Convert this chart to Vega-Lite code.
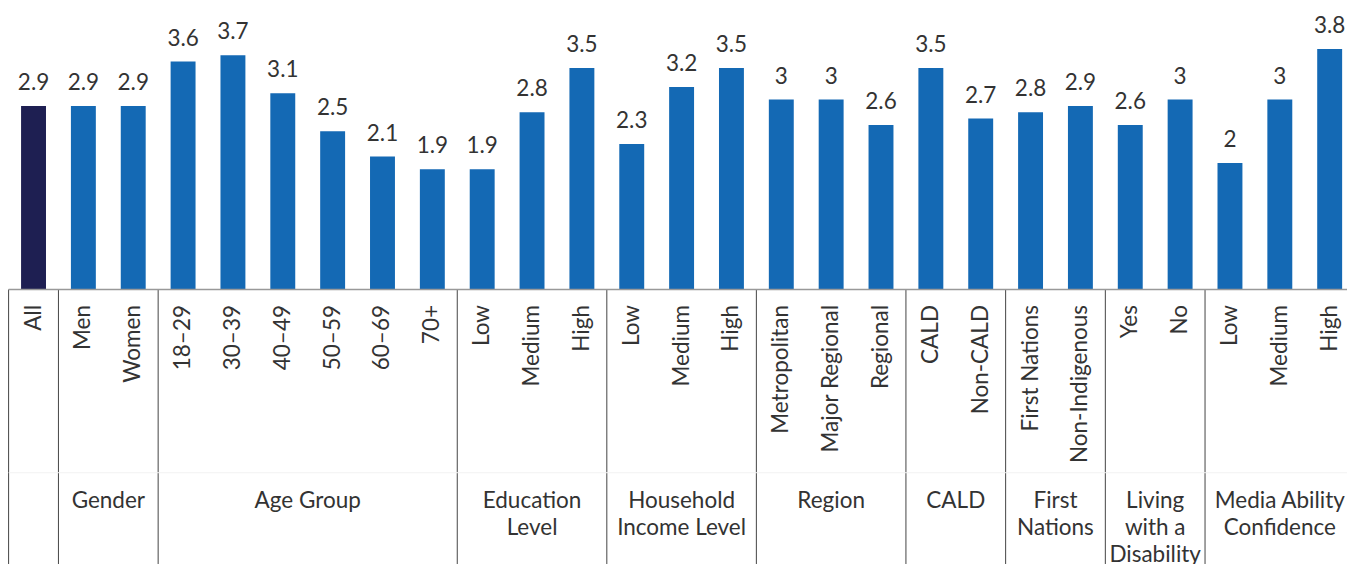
{
  "$schema": "https://vega.github.io/schema/vega-lite/v6.json",
  "width": 1346,
  "height": 564,
  "autosize": {"type": "none"},
  "padding": {"left": 8.6, "top": 0, "right": 0, "bottom": 0},
  "background": "white",
  "config": {"view": {"stroke": null}, "text": {"font": "Lato", "fontSize": 22.5, "color": "#333333"}},
  "datasets": {
    "bars": [
      {"key": "k01", "label": "All", "value": 2.9},
      {"key": "k02", "label": "Men", "value": 2.9},
      {"key": "k03", "label": "Women", "value": 2.9},
      {"key": "k04", "label": "18–29", "value": 3.6},
      {"key": "k05", "label": "30–39", "value": 3.7},
      {"key": "k06", "label": "40–49", "value": 3.1},
      {"key": "k07", "label": "50–59", "value": 2.5},
      {"key": "k08", "label": "60–69", "value": 2.1},
      {"key": "k09", "label": "70+", "value": 1.9},
      {"key": "k10", "label": "Low", "value": 1.9},
      {"key": "k11", "label": "Medium", "value": 2.8},
      {"key": "k12", "label": "High", "value": 3.5},
      {"key": "k13", "label": "Low", "value": 2.3},
      {"key": "k14", "label": "Medium", "value": 3.2},
      {"key": "k15", "label": "High", "value": 3.5},
      {"key": "k16", "label": "Metropolitan", "value": 3.0},
      {"key": "k17", "label": "Major Regional", "value": 3.0},
      {"key": "k18", "label": "Regional", "value": 2.6},
      {"key": "k19", "label": "CALD", "value": 3.5},
      {"key": "k20", "label": "Non-CALD", "value": 2.7},
      {"key": "k21", "label": "First Nations", "value": 2.8},
      {"key": "k22", "label": "Non-Indigenous", "value": 2.9},
      {"key": "k23", "label": "Yes", "value": 2.6},
      {"key": "k24", "label": "No", "value": 3.0},
      {"key": "k25", "label": "Low", "value": 2.0},
      {"key": "k26", "label": "Medium", "value": 3.0},
      {"key": "k27", "label": "High", "value": 3.8}
    ],
    "groups": [
      {"group": "", "first": "k01", "mid": "k01", "pos": "none"},
      {"group": "Gender", "first": "k02", "mid": "k03", "pos": "edge"},
      {"group": "Age Group", "first": "k04", "mid": "k07", "pos": "edge"},
      {"group": "Education\nLevel", "first": "k10", "mid": "k11", "pos": "center"},
      {"group": "Household\nIncome Level", "first": "k13", "mid": "k14", "pos": "center"},
      {"group": "Region", "first": "k16", "mid": "k17", "pos": "center"},
      {"group": "CALD", "first": "k19", "mid": "k20", "pos": "edge"},
      {"group": "First\nNations", "first": "k21", "mid": "k22", "pos": "edge"},
      {"group": "Living\nwith a\nDisability", "first": "k23", "mid": "k24", "pos": "edge"},
      {"group": "Media Ability\nConfidence", "first": "k25", "mid": "k26", "pos": "center"}
    ]
  },
  "layer": [
    {
      "data": {"name": "bars"},
      "mark": {"type": "bar", "width": {"band": 0.5}},
      "encoding": {
        "x": {"field": "key", "type": "nominal", "sort": "ascending", "scale": {"paddingInner": 0, "paddingOuter": 0}, "axis": null},
        "y": {"field": "value", "type": "quantitative", "scale": {"domain": [-4.336, 4.573], "nice": false, "zero": false}, "axis": null},
        "color": {"condition": {"test": "datum.key === 'k01'", "value": "#1e1f52"}, "value": "#1469b4"}
      }
    },
    {
      "data": {"name": "bars"},
      "mark": {"type": "text", "dy": -16, "baseline": "alphabetic", "align": "center"},
      "encoding": {
        "x": {"field": "key", "type": "nominal", "sort": "ascending"},
        "y": {"field": "value", "type": "quantitative"},
        "text": {"field": "value", "type": "quantitative"}
      }
    },
    {
      "data": {"name": "bars"},
      "mark": {"type": "text", "angle": 270, "align": "right", "baseline": "middle"},
      "encoding": {
        "x": {"field": "key", "type": "nominal", "sort": "ascending"},
        "y": {"datum": -0.245},
        "text": {"field": "label", "type": "nominal"}
      }
    },
    {
      "data": {"name": "groups"},
      "mark": {"type": "rule", "color": "#444444", "strokeWidth": 1},
      "encoding": {
        "x": {"field": "first", "type": "nominal", "sort": "ascending", "bandPosition": 0},
        "y": {"datum": 0},
        "y2": {"datum": -4.336}
      }
    },
    {
      "data": {"values": [{}]},
      "mark": {"type": "rule", "color": "#f2f2f2", "strokeWidth": 1},
      "encoding": {"y": {"datum": -2.894}}
    },
    {
      "data": {"values": [{}]},
      "mark": {"type": "rule", "color": "#999999", "strokeWidth": 1.5},
      "encoding": {"y": {"datum": 0}}
    },
    {
      "data": {"name": "groups"},
      "transform": [{"filter": "datum.pos === 'edge'"}],
      "mark": {"type": "text", "align": "center", "baseline": "alphabetic", "lineBreak": "\n", "lineHeight": 27},
      "encoding": {
        "x": {"field": "mid", "type": "nominal", "sort": "ascending", "bandPosition": 0},
        "y": {"datum": -3.457},
        "text": {"field": "group", "type": "nominal"}
      }
    },
    {
      "data": {"name": "groups"},
      "transform": [{"filter": "datum.pos === 'center'"}],
      "mark": {"type": "text", "align": "center", "baseline": "alphabetic", "lineBreak": "\n", "lineHeight": 27},
      "encoding": {
        "x": {"field": "mid", "type": "nominal", "sort": "ascending", "bandPosition": 0.5},
        "y": {"datum": -3.457},
        "text": {"field": "group", "type": "nominal"}
      }
    }
  ]
}
